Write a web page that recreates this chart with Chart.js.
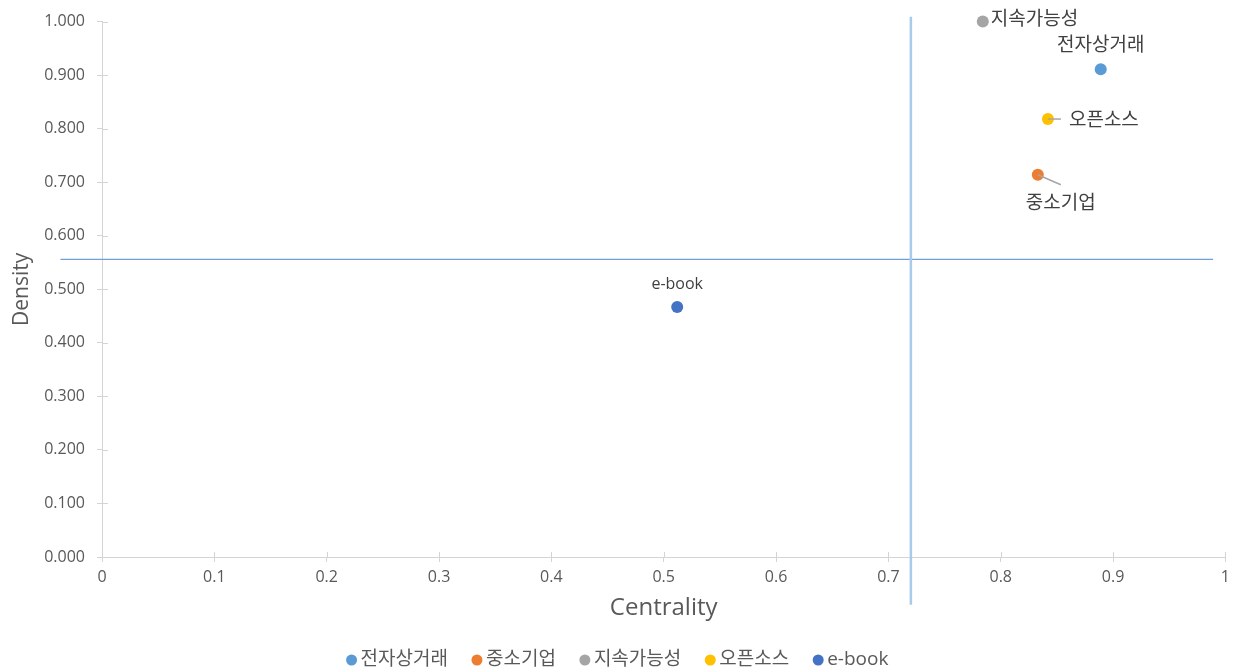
<!DOCTYPE html>
<html>
<head>
<meta charset="utf-8">
<script src="https://cdn.jsdelivr.net/npm/chart.js@4.4.1/dist/chart.umd.min.js"></script>
<style>
  html, body { margin: 0; padding: 0; background: #ffffff; }
  #wrap { width: 1236px; height: 672px; }
</style>
</head>
<body>
<div id="wrap"><canvas id="c" width="1236" height="672"></canvas></div>
<script>
// Keyword positions on the strategic diagram
const keywords   = ['전자상거래', '중소기업', '지속가능성', '오픈소스', 'e-book'];
const centrality = [0.889, 0.833, 0.784, 0.842, 0.512];
const density    = [0.911, 0.714, 1.000, 0.818, 0.467];
const colors     = ['#5B9BD5', '#ED7D31', '#A5A5A5', '#FFC000', '#4472C4'];

// Quadrant divider lines (mean centrality / mean density)
const meanCentrality = 0.72;
const meanDensity    = 0.556;
const vLineDensity   = [-0.089, 1.009];
const hLineCentrality = [-0.037, 0.989];

// Axis tick labels
const xTickLabels = ['0', '0.1', '0.2', '0.3', '0.4', '0.5', '0.6', '0.7', '0.8', '0.9', '1'];
const yTickLabels = ['0.000', '0.100', '0.200', '0.300', '0.400', '0.500', '0.600', '0.700', '0.800', '0.900', '1.000'];

// Where each data label sits relative to its point
const labelPlacement = {
  '전자상거래': { dx: 0,  dy: -24, align: 'center', size: 19 },
  '중소기업':   { dx: 23, dy: 29,  align: 'center', size: 19, leader: [23, 10] },
  '지속가능성': { dx: 8,  dy: -2,  align: 'left',   size: 19 },
  '오픈소스':   { dx: 21, dy: 2,   align: 'left',   size: 19, leader: [13, 0] },
  'e-book':     { dx: 0,  dy: -23, align: 'center', size: 16 }
};

const LATIN = "'Open Sans', 'Noto Sans CJK KR', sans-serif";
const TEXT_GREY = '#595959';
const AXIS_GREY = '#d4d4d4';

const pointSets = keywords.map((k, i) => ({
  label: k,
  data: [{ x: centrality[i], y: density[i] }],
  backgroundColor: colors[i],
  borderColor: colors[i],
  borderWidth: 0,
  pointRadius: 6,
  pointHoverRadius: 6,
  clip: false,
  order: 1
}));

const lineSets = [
  {
    label: '_vline',
    data: vLineDensity.map(v => ({ x: meanCentrality, y: v })),
    showLine: true,
    borderColor: '#A9CBEB',
    borderWidth: 2.5,
    pointRadius: 0,
    clip: false,
    order: 5
  },
  {
    label: '_hline',
    data: hLineCentrality.map(v => ({ x: v, y: meanDensity })),
    showLine: true,
    borderColor: '#6FA0DA',
    borderWidth: 1.2,
    pointRadius: 0,
    clip: false,
    order: 5
  }
];

// Tick marks that cross the axis line (inner halves)
const crossTicks = {
  id: 'crossTicks',
  beforeDatasetsDraw(chart) {
    const { ctx, chartArea, scales } = chart;
    ctx.save();
    ctx.strokeStyle = AXIS_GREY;
    ctx.lineWidth = 1;
    scales.x.ticks.forEach((t, i) => {
      const px = Math.round(scales.x.getPixelForTick(i)) + 0.5;
      ctx.beginPath();
      ctx.moveTo(px, chartArea.bottom);
      ctx.lineTo(px, chartArea.bottom - 5);
      ctx.stroke();
    });
    scales.y.ticks.forEach((t, i) => {
      const py = Math.round(scales.y.getPixelForTick(i)) + 0.5;
      ctx.beginPath();
      ctx.moveTo(chartArea.left, py);
      ctx.lineTo(chartArea.left + 6, py);
      ctx.stroke();
    });
    ctx.restore();
  }
};

// Data labels with optional leader lines
const pointLabels = {
  id: 'pointLabels',
  afterDatasetsDraw(chart) {
    const { ctx } = chart;
    ctx.save();
    keywords.forEach((k, i) => {
      const el = chart.getDatasetMeta(i).data[0];
      if (!el) return;
      const p = labelPlacement[k];
      if (p.leader) {
        ctx.strokeStyle = '#A6A6A6';
        ctx.lineWidth = 1.5;
        ctx.beginPath();
        ctx.moveTo(el.x, el.y);
        ctx.lineTo(el.x + p.leader[0], el.y + p.leader[1]);
        ctx.stroke();
      }
      ctx.font = p.size + 'px ' + LATIN;
      ctx.fillStyle = '#404040';
      ctx.textAlign = p.align;
      ctx.textBaseline = 'middle';
      ctx.fillText(k, el.x + p.dx, el.y + p.dy);
    });
    ctx.restore();
  }
};

// Bottom legend with round markers
const bottomLegend = {
  id: 'bottomLegend',
  afterDraw(chart) {
    const { ctx } = chart;
    const r = 5.5, gapText = 9, gapItem = 29, cy = 660;
    ctx.save();
    ctx.font = '19px ' + LATIN;
    const items = chart.data.datasets.filter(d => !d.label.startsWith('_'));
    const widths = items.map(d => ctx.measureText(d.label).width);
    const itemW = widths.map(w => r + gapText + w);
    const total = itemW.reduce((a, b) => a + b, 0) + (gapItem - r) * (items.length - 1) + r;
    let x = 620 - total / 2;
    items.forEach((d, i) => {
      ctx.fillStyle = d.backgroundColor;
      ctx.beginPath();
      ctx.arc(x + r, cy, r, 0, Math.PI * 2);
      ctx.fill();
      ctx.fillStyle = TEXT_GREY;
      ctx.textAlign = 'left';
      ctx.textBaseline = 'middle';
      ctx.fillText(d.label, x + r + gapText, cy);
      x += r + gapText + widths[i] + gapItem - r;
    });
    ctx.restore();
  }
};

new Chart(document.getElementById('c'), {
  type: 'scatter',
  data: { datasets: [...pointSets, ...lineSets] },
  options: {
    responsive: false,
    animation: false,
    events: [],
    layout: { autoPadding: false, padding: { left: 0, top: 19, right: 9, bottom: 35 } },
    plugins: {
      legend: { display: false },
      tooltip: { enabled: false }
    },
    scales: {
      x: {
        type: 'linear',
        min: 0,
        max: 1,
        afterFit(s) { s.height = 80; },
        ticks: {
          stepSize: 0.1,
          autoSkip: false,
          maxRotation: 0,
          padding: 6,
          color: TEXT_GREY,
          font: { family: LATIN, size: 16 },
          callback: (v, i) => xTickLabels[i]
        },
        grid: { drawOnChartArea: false, drawTicks: true, tickLength: 5, color: AXIS_GREY },
        border: { display: true, color: AXIS_GREY, width: 1 },
        title: {
          display: true,
          text: 'Centrality',
          color: TEXT_GREY,
          font: { family: LATIN, size: 24 },
          padding: { top: 0, bottom: 14 }
        }
      },
      y: {
        type: 'linear',
        min: 0,
        max: 1,
        afterFit(s) { s.width = 102; },
        ticks: {
          stepSize: 0.1,
          autoSkip: false,
          padding: 12,
          color: TEXT_GREY,
          font: { family: LATIN, size: 16 },
          callback: (v, i) => yTickLabels[i]
        },
        grid: { drawOnChartArea: false, drawTicks: true, tickLength: 5, color: AXIS_GREY },
        border: { display: true, color: AXIS_GREY, width: 1 },
        title: {
          display: true,
          text: 'Density',
          color: TEXT_GREY,
          font: { family: LATIN, size: 21 },
          padding: { top: 9, bottom: 0 }
        }
      }
    }
  },
  plugins: [crossTicks, pointLabels, bottomLegend]
});
</script>
</body>
</html>
